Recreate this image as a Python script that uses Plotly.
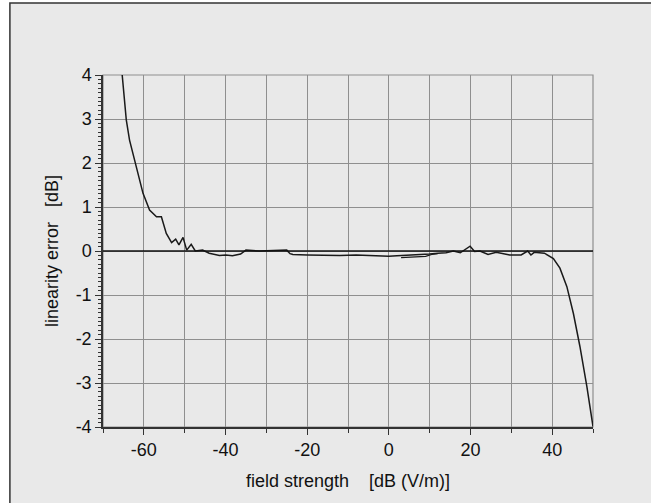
import plotly.graph_objects as go

# main measured curve: field strength [dB(V/m)] vs linearity error [dB]
field_main = [-65.3, -64.3, -63.5, -61.8, -60.2, -58.6, -56.9, -55.7, -54.5, -53.2,
              -52.2, -51.4, -50.4, -49.5, -48.4, -47.4, -45.6, -44.0, -41.5, -39.9,
              -38.3, -36.3, -35.0, -31.7, -28.0, -25.0, -24.2, -23.5, -20.0, -16.0,
              -12.0, -8.0, -4.0, 0.0, 2.0, 5.0, 8.0, 10.0, 12.0, 14.0,
              15.8, 17.5, 19.9, 21.0, 22.3, 24.3, 26.3, 28.0, 29.6, 32.4,
              34.0, 34.8, 35.6, 38.1, 40.3, 41.9, 43.6, 45.2, 46.8, 48.5, 50.0]
error_main = [4.0, 2.98, 2.52, 1.92, 1.31, 0.93, 0.78, 0.78, 0.40, 0.19,
              0.27, 0.14, 0.31, 0.02, 0.15, 0.0, 0.02, -0.05, -0.10, -0.09,
              -0.11, -0.07, 0.02, 0.0, 0.01, 0.02, -0.06, -0.08, -0.09, -0.10,
              -0.10, -0.09, -0.11, -0.12, -0.11, -0.10, -0.09, -0.07, -0.05, -0.04,
              0.0, -0.04, 0.11, -0.01, 0.0, -0.08, -0.03, -0.06, -0.09, -0.09,
              0.0, -0.09, -0.03, -0.05, -0.17, -0.39, -0.81, -1.42, -2.17, -3.08, -3.99]

# short overlapping second sweep
field_second = [3.0, 5.0, 7.0, 9.0, 10.5, 12.0]
error_second = [-0.15, -0.14, -0.14, -0.12, -0.08, -0.06]

x_ticks = [-60, -40, -20, 0, 20, 40]
y_ticks = [-4, -3, -2, -1, 0, 1, 2, 3, 4]

fig = go.Figure()
fig.add_trace(go.Scatter(x=field_main, y=error_main, mode="lines",
                         line=dict(color="#1a1a1a", width=1.5), showlegend=False))
fig.add_trace(go.Scatter(x=field_second, y=error_second, mode="lines",
                         line=dict(color="#1a1a1a", width=1.2), showlegend=False))

font = dict(family="Liberation Sans, Arial, sans-serif", size=18, color="#111111")

fig.update_layout(
    width=651, height=503,
    margin=dict(l=103, r=58, t=75, b=76),
    paper_bgcolor="white",
    plot_bgcolor="white",
    font=font,
    shapes=[
        dict(type="rect", xref="paper", yref="paper", layer="below",
             x0=-0.19, x1=1.2, y0=-0.3, y1=1.2045,
             fillcolor="#e9e9e9", line=dict(color="#333333", width=1.5)),
        dict(type="line", xref="paper", yref="y", x0=0, x1=1, y0=0, y1=0,
             line=dict(color="#111111", width=1.5)),
    ],
)

fig.update_xaxes(
    range=[-70, 50], tickvals=x_ticks, ticktext=[str(v) for v in x_ticks],
    ticks="outside", ticklen=6, tickcolor="#333333",
    showline=True, linecolor="#333333", linewidth=1.5, mirror=False,
    showgrid=True, gridcolor="#8f8f8f", gridwidth=1.2,
    minor=dict(dtick=10, tick0=0, showgrid=True, gridcolor="#8f8f8f", gridwidth=1.2,
               ticks="outside", ticklen=4, tickcolor="#333333"),
    zeroline=False,
    title=dict(text="field strength    [dB (V/m)]", standoff=15, font=font),
    tickfont=font,
)
fig.update_yaxes(
    range=[-4, 4], tickvals=y_ticks, ticktext=[str(v) for v in y_ticks],
    ticks="outside", ticklen=6, tickcolor="#333333",
    showline=True, linecolor="#333333", linewidth=1.5,
    showgrid=True, gridcolor="#8f8f8f", gridwidth=1.2,
    minor=dict(dtick=0.1, tick0=0, showgrid=False,
               ticks="outside", ticklen=3, tickcolor="#333333"),
    zeroline=False,
    title=dict(text="linearity error   [dB]", standoff=12, font=font),
    tickfont=font,
)

# right/top frame of plot area as grid-coloured border
fig.add_shape(type="rect", xref="paper", yref="paper", x0=0, x1=1, y0=0, y1=1,
              line=dict(color="#8f8f8f", width=1.2), layer="below")

fig.write_html("out.html", config={"displayModeBar": False},
               post_script="document.body.style.margin='0';document.body.style.overflow='hidden';")
